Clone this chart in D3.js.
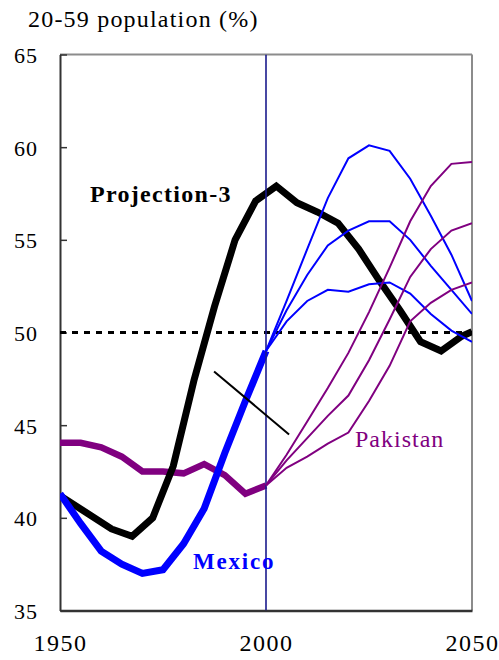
<!DOCTYPE html>
<html>
<head>
<meta charset="utf-8">
<script src="https://cdn.jsdelivr.net/npm/d3@7"></script>
<style>
  html, body { margin: 0; padding: 0; background: #ffffff; }
  svg { display: block; }
</style>
</head>
<body>
<div id="chart"></div>
<script>
// ---------------- data ----------------
const histYears = [1950, 1955, 1960, 1965, 1970, 1975, 1980, 1985, 1990, 1995, 2000];
const mexicoHist = [41.3, 39.7, 38.2, 37.5, 37.0, 37.2, 38.6, 40.5, 43.5, 46.3, 49.0];
const pakistanHist = [44.05, 44.05, 43.8, 43.3, 42.5, 42.5, 42.4, 42.9, 42.3, 41.3, 41.75];

const projYears = [2000, 2005, 2010, 2015, 2020, 2025, 2030, 2035, 2040, 2045, 2050];
const mexicoHigh = [49.0, 51.7, 54.5, 57.25, 59.4, 60.1, 59.8, 58.3, 56.3, 54.2, 51.7];
const mexicoMid  = [49.0, 51.2, 53.1, 54.7, 55.5, 56.0, 56.0, 55.0, 53.6, 52.3, 51.0];
const mexicoLow  = [49.0, 50.6, 51.7, 52.3, 52.2, 52.6, 52.7, 52.1, 51.0, 50.1, 49.5];
const pakistanHigh = [41.75, 43.4, 45.2, 47.0, 48.9, 51.1, 53.5, 56.0, 57.9, 59.1, 59.2];
const pakistanMid  = [41.75, 43.1, 44.3, 45.5, 46.6, 48.5, 50.7, 53.0, 54.5, 55.5, 55.9];
const pakistanLow  = [41.75, 42.7, 43.3, 44.0, 44.6, 46.3, 48.2, 50.6, 51.6, 52.3, 52.7];

const projection3Years = [1950, 1962.5, 1967.5, 1972.5, 1977.5, 1982.5, 1987.5, 1992.5, 1997.5,
  2002.5, 2007.5, 2012.5, 2017.5, 2022.5, 2027.5, 2032.5, 2037.5, 2042.5, 2047.5, 2050];
const projection3 = [41.2, 39.4, 39.0, 40.0, 42.8, 47.4, 51.4, 55.0, 57.1,
  57.9, 57.0, 56.5, 55.9, 54.5, 52.8, 51.2, 49.5, 49.0, 49.8, 50.05];

const referenceLevel = 50;
const baseYear = 2000;
const pointerYears = [1987.4, 2005.6];
const pointerValues = [47.9, 44.5];

const yTicks = [35, 40, 45, 50, 55, 60, 65];
const xTicks = [1950, 2000, 2050];
const yTitle = "20-59 population (%)";

// ---------------- chart ----------------
const W = 499, H = 660;
const FONT = "'Liberation Serif'";
const svg = d3.select("#chart").append("svg").attr("width", W).attr("height", H);

const x = d3.scaleLinear().domain([1950, 2050]).range([60, 472]);
const y = d3.scaleLinear().domain([35, 65]).range([610.5, 54.5]);

const line = d3.line().x(d => x(d[0])).y(d => y(d[1]));
const zip = (a, b) => a.map((v, i) => [v, b[i]]);

svg.append("defs").append("clipPath").attr("id", "plot")
  .append("rect").attr("x", x(1950)).attr("y", y(65)).attr("width", x(2050) - x(1950)).attr("height", y(35) - y(65));

// frame: top and right borders
svg.append("line").attr("x1", x(1950)).attr("x2", x(2050)).attr("y1", y(65)).attr("y2", y(65))
  .attr("stroke", "#8c8c8c").attr("stroke-width", 2);
svg.append("line").attr("x1", x(2050)).attr("x2", x(2050)).attr("y1", y(65)).attr("y2", y(35))
  .attr("stroke", "#8c8c8c").attr("stroke-width", 2);

// y axis (inward ticks)
const yAxis = d3.axisLeft(y).tickValues(yTicks).tickSizeInner(-7).tickSizeOuter(0).tickPadding(22);
const gy = svg.append("g").attr("transform", `translate(${x(1950)},0)`).call(yAxis);
gy.select(".domain").attr("stroke", "#333").attr("stroke-width", 2);
gy.selectAll(".tick line").attr("stroke", "#333").attr("stroke-width", 1.5);
gy.selectAll(".tick text").style("font-family", FONT).style("font-size", "22px").attr("fill", "#000")
  .attr("letter-spacing", 1).attr("dy", "0.36em");

// x axis
const xAxis = d3.axisBottom(x).tickValues(xTicks).tickSize(0).tickPadding(22).tickFormat(d3.format("d"));
const gx = svg.append("g").attr("transform", `translate(0,${y(35)})`).call(xAxis);
gx.select(".domain").attr("stroke", "#333").attr("stroke-width", 2.5);
gx.selectAll(".tick text").style("font-family", FONT).style("font-size", "24px").attr("fill", "#000")
  .attr("letter-spacing", 1.5).attr("dy", "0.75em");

// y title
svg.append("text").attr("x", 28).attr("y", 27).style("font-family", FONT).style("font-size", "24px")
  .attr("letter-spacing", 1.2).attr("fill", "#000").text(yTitle);

const plot = svg.append("g").attr("clip-path", "url(#plot)");

// dashed reference line at 50
plot.append("line").attr("x1", x(1950)).attr("x2", x(2050)).attr("y1", y(referenceLevel)).attr("y2", y(referenceLevel))
  .attr("stroke", "#000").attr("stroke-width", 3).attr("stroke-dasharray", "6,6");

// thick historical lines
plot.append("path").datum(zip(histYears, pakistanHist)).attr("d", line)
  .attr("fill", "none").attr("stroke", "#800080").attr("stroke-width", 6.5).attr("stroke-linejoin", "miter");
plot.append("path").datum(zip(projection3Years, projection3)).attr("d", line)
  .attr("fill", "none").attr("stroke", "#000").attr("stroke-width", 7).attr("stroke-linejoin", "miter");
plot.append("path").datum(zip(histYears, mexicoHist)).attr("d", line)
  .attr("fill", "none").attr("stroke", "#0000ff").attr("stroke-width", 7).attr("stroke-linejoin", "miter");

// vertical 2000 line
plot.append("line").attr("x1", x(baseYear)).attr("x2", x(baseYear)).attr("y1", y(65)).attr("y2", y(35))
  .attr("stroke", "#1a1a8c").attr("stroke-width", 1.6);

// thin projections
[mexicoHigh, mexicoMid, mexicoLow].forEach(s => {
  plot.append("path").datum(zip(projYears, s)).attr("d", line)
    .attr("fill", "none").attr("stroke", "#0000ff").attr("stroke-width", 2);
});
[pakistanHigh, pakistanMid, pakistanLow].forEach(s => {
  plot.append("path").datum(zip(projYears, s)).attr("d", line)
    .attr("fill", "none").attr("stroke", "#800080").attr("stroke-width", 2);
});

// pointer line
plot.append("path").datum(zip(pointerYears, pointerValues)).attr("d", line)
  .attr("fill", "none").attr("stroke", "#000").attr("stroke-width", 2);

// labels
svg.append("text").attr("x", 90).attr("y", 201.5).style("font-family", FONT).style("font-size", "24px")
  .style("font-weight", "bold").attr("letter-spacing", 1.3).attr("fill", "#000").text("Projection-3");
svg.append("text").attr("x", 193).attr("y", 568.5).style("font-family", FONT).style("font-size", "23px")
  .style("font-weight", "bold").attr("letter-spacing", 1.8).attr("fill", "#0000ff").text("Mexico");
svg.append("text").attr("x", 355).attr("y", 446.5).style("font-family", FONT).style("font-size", "24px")
  .attr("letter-spacing", 1).attr("fill", "#800080").text("Pakistan");
</script>
</body>
</html>
